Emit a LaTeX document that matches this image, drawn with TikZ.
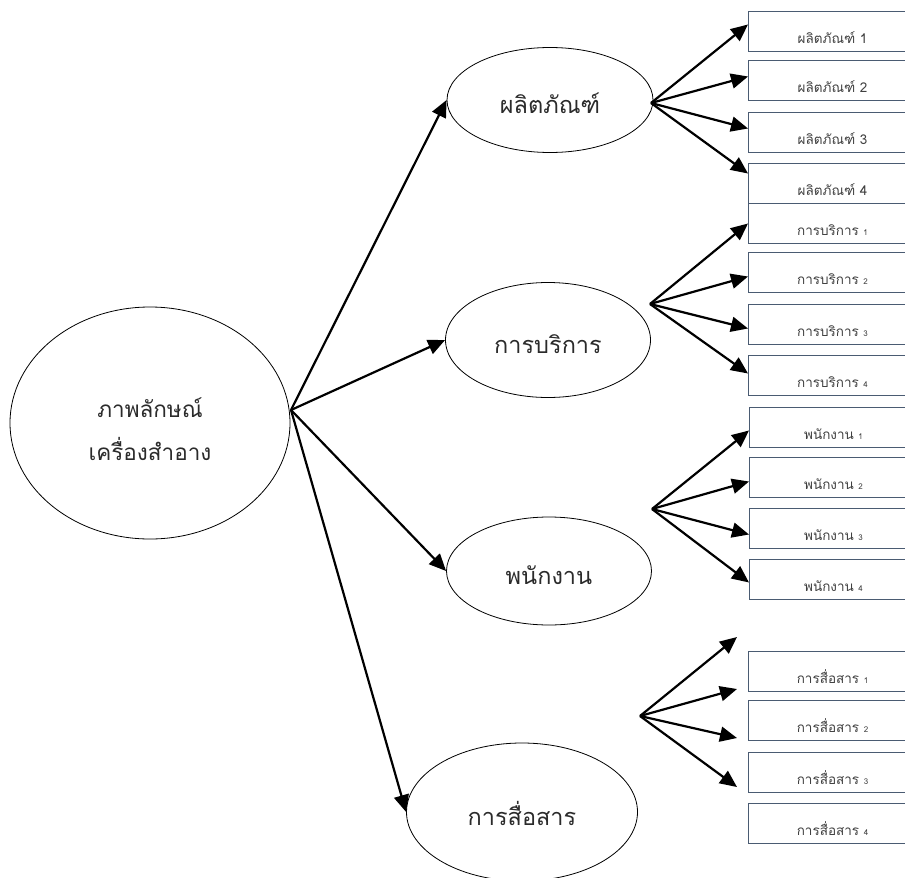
\documentclass[tikz,border=0pt]{standalone}
\usepackage{fontspec}
\setmainfont[Script=Thai]{Loma}
\usetikzlibrary{shapes.geometric,arrows.meta}
\definecolor{boxline}{HTML}{4A5B72}
\definecolor{inktext}{HTML}{2B2B2B}
\definecolor{boxtext}{HTML}{404040}
\newcommand{\smallnum}[1]{{\fontsize{8}{8}\selectfont #1}}

\begin{document}
\begin{tikzpicture}[x=1pt,y=-1pt,
  bubble/.style={ellipse, draw, line width=0.8pt, inner sep=0pt, text=inktext,
    font=\fontsize{23.5}{24}\selectfont, text height=26pt, text depth=0pt},
  itembox/.style={rectangle, draw=boxline, line width=1pt, anchor=north west,
    minimum width=168pt, minimum height=40pt, inner sep=0pt, text=boxtext,
    font=\fontsize{13.5}{14}\selectfont, text height=24pt, text depth=0pt},
  link/.style={line width=2.2pt, -{Triangle[length=17pt,width=15pt]}}
]
\useasboundingbox (0,0) rectangle (905,878);
\clip (0,0) rectangle (905,878);

% central idea
\node[ellipse, draw, line width=0.8pt, minimum width=280pt, minimum height=232pt] (main) at (150,423) {};
\node[text=inktext, align=center, font=\fontsize{22.5}{43}\selectfont] (maintext) at (150,429) {ภาพลักษณ์\\เครื่องสำอาง};
\coordinate (hub) at (291,410);

% four aspects
\node[bubble, minimum width=206pt, minimum height=105pt] (p1) at (550,100) {ผลิตภัณฑ์};
\node[bubble, minimum width=205pt, minimum height=115pt] (p2) at (548,340) {การบริการ};
\node[bubble, minimum width=205pt, minimum height=108pt] (p3) at (549,571) {พนักงาน};
\node[bubble, minimum width=231pt, minimum height=138pt] (p4) at (522,812) {การสื่อสาร};

\draw[link] (hub) -- (p1.west);
\draw[link] (hub) -- (p2.west);
\draw[link] (hub) -- (p3.west);
\draw[link] (hub) -- (p4.west);

% item boxes
\node[itembox] (b11) at (748,11)  {ผลิตภัณฑ์ 1};
\node[itembox] (b12) at (748,60)  {ผลิตภัณฑ์ 2};
\node[itembox] (b13) at (748,112) {ผลิตภัณฑ์ 3};
\node[itembox] (b14) at (748,163) {ผลิตภัณฑ์ 4};

\node[itembox] (b21) at (748,203) {การบริการ \smallnum{1}};
\node[itembox] (b22) at (748,252) {การบริการ \smallnum{2}};
\node[itembox] (b23) at (748,304) {การบริการ \smallnum{3}};
\node[itembox] (b24) at (748,355) {การบริการ \smallnum{4}};

\node[itembox] (b31) at (749,407) {พนักงาน \smallnum{1}};
\node[itembox] (b32) at (749,457) {พนักงาน \smallnum{2}};
\node[itembox] (b33) at (749,508) {พนักงาน \smallnum{3}};
\node[itembox] (b34) at (749,559) {พนักงาน \smallnum{4}};

\node[itembox] (b41) at (748,651) {การสื่อสาร \smallnum{1}};
\node[itembox] (b42) at (748,700) {การสื่อสาร \smallnum{2}};
\node[itembox] (b43) at (748,752) {การสื่อสาร \smallnum{3}};
\node[itembox] (b44) at (748,803) {การสื่อสาร \smallnum{4}};

% fan-out points
\coordinate (h1) at (651,103);
\coordinate (h2) at (650,304);
\coordinate (h3) at (652,509);
\coordinate (h4) at (640,716);

\draw[link] (h1) -- ([yshift=7pt]b11.west);
\draw[link] (h1) -- ([yshift=4pt]b12.west);
\draw[link] (h1) -- ([yshift=4pt]b13.west);
\draw[link] (h1) -- ([yshift=10pt]b14.west);

\draw[link] (h2) -- (b21.west);
\draw[link] (h2) -- ([yshift=-4pt]b22.west);
\draw[link] (h2) -- ([yshift=-4pt]b23.west);
\draw[link] (h2) -- ([yshift=2pt]b24.west);

\draw[link] (h3) -- ([yshift=-3pt]b31.west);
\draw[link] (h3) -- ([yshift=-4pt]b32.west);
\draw[link] (h3) -- ([yshift=-6pt]b33.west);
\draw[link] (h3) -- ([yshift=-3pt]b34.west);

% arrows of the last group stop short of the boxes
\coordinate (e1) at (737,637);
\coordinate (e2) at (737,689);
\coordinate (e3) at (737,738);
\coordinate (e4) at (737,787);
\draw[link] (h4) -- (e1);
\draw[link] (h4) -- (e2);
\draw[link] (h4) -- (e3);
\draw[link] (h4) -- (e4);
\end{tikzpicture}
\end{document}
